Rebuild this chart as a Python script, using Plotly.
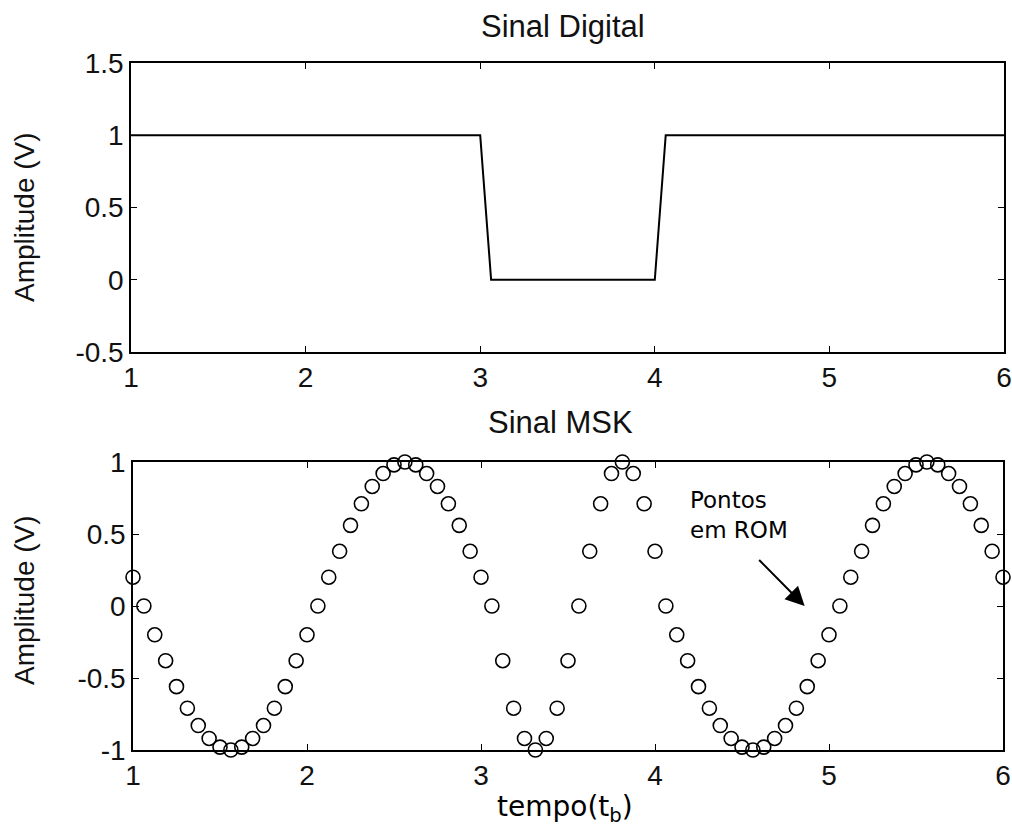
import plotly.graph_objects as go

# ---- data ----
t_dig = [1.0, 3.0, 3.0625, 4.0, 4.0625, 6.0]
v_dig = [1, 1, 0, 0, 1, 1]

t_msk = [
    1.0, 1.0625, 1.125, 1.1875, 1.25, 1.3125, 1.375, 1.4375,
    1.5, 1.5625, 1.625, 1.6875, 1.75, 1.8125, 1.875, 1.9375,
    2.0, 2.0625, 2.125, 2.1875, 2.25, 2.3125, 2.375, 2.4375,
    2.5, 2.5625, 2.625, 2.6875, 2.75, 2.8125, 2.875, 2.9375,
    3.0, 3.0625, 3.125, 3.1875, 3.25, 3.3125, 3.375, 3.4375,
    3.5, 3.5625, 3.625, 3.6875, 3.75, 3.8125, 3.875, 3.9375,
    4.0, 4.0625, 4.125, 4.1875, 4.25, 4.3125, 4.375, 4.4375,
    4.5, 4.5625, 4.625, 4.6875, 4.75, 4.8125, 4.875, 4.9375,
    5.0, 5.0625, 5.125, 5.1875, 5.25, 5.3125, 5.375, 5.4375,
    5.5, 5.5625, 5.625, 5.6875, 5.75, 5.8125, 5.875, 5.9375,
    6.0,
]
v_msk = [
    0.20, 0.00, -0.20, -0.38, -0.56, -0.71, -0.83, -0.92,
    -0.98, -1.00, -0.98, -0.92, -0.83, -0.71, -0.56, -0.38,
    -0.20, 0.00, 0.20, 0.38, 0.56, 0.71, 0.83, 0.92,
    0.98, 1.00, 0.98, 0.92, 0.83, 0.71, 0.56, 0.38,
    0.20, 0.00, -0.38, -0.71, -0.92, -1.00, -0.92, -0.71,
    -0.38, 0.00, 0.38, 0.71, 0.92, 1.00, 0.92, 0.71,
    0.38, 0.00, -0.20, -0.38, -0.56, -0.71, -0.83, -0.92,
    -0.98, -1.00, -0.98, -0.92, -0.83, -0.71, -0.56, -0.38,
    -0.20, 0.00, 0.20, 0.38, 0.56, 0.71, 0.83, 0.92,
    0.98, 1.00, 0.98, 0.92, 0.83, 0.71, 0.56, 0.38,
    0.20,
]

x_ticks = [1, 2, 3, 4, 5, 6]
y_ticks_top = [-0.5, 0, 0.5, 1, 1.5]
y_ticks_bot = [-1, -0.5, 0, 0.5, 1]

W, H = 1012, 827
SANS = "Liberation Sans, Arial, sans-serif"
VERD = "DejaVu Sans, Verdana, sans-serif"

fig = go.Figure()
fig.add_trace(go.Scatter(x=t_dig, y=v_dig, mode="lines",
                         line=dict(color="black", width=2),
                         xaxis="x", yaxis="y", showlegend=False))
fig.add_trace(go.Scatter(x=t_msk, y=v_msk, mode="markers",
                         marker=dict(symbol="circle-open", size=14, color="black",
                                     line=dict(width=1.6, color="black")),
                         cliponaxis=False,
                         xaxis="x2", yaxis="y2", showlegend=False))

def px_x(p):
    return p / W

def px_y(p):
    return 1 - p / H

axis_common = dict(showline=True, linecolor="black", linewidth=1.5, mirror="ticks",
                   ticks="inside", ticklen=6, tickcolor="black", tickwidth=1,
                   showgrid=False, zeroline=False, automargin=False,
                   tickfont=dict(family=SANS, size=28, color="#111"))

fig.update_layout(
    width=W, height=H,
    margin=dict(l=0, r=0, t=0, b=0),
    paper_bgcolor="white", plot_bgcolor="white",
    xaxis=dict(domain=[px_x(131), px_x(1004)], range=[1, 6], tickvals=x_ticks,
               anchor="y", **axis_common),
    yaxis=dict(domain=[px_y(352), px_y(63)], range=[-0.5, 1.5], tickvals=y_ticks_top,
               ticktext=["-0.5", "0", "0.5", "1", "1.5"], anchor="x", **axis_common),
    xaxis2=dict(domain=[px_x(133), px_x(1003)], range=[1, 6], tickvals=x_ticks,
                anchor="y2", **axis_common),
    yaxis2=dict(domain=[px_y(750), px_y(462)], range=[-1, 1], tickvals=y_ticks_bot,
                ticktext=["-1", "-0.5", "0", "0.5", "1"], anchor="x2", **axis_common),
    annotations=[
        dict(text="Sinal Digital", xref="paper", yref="paper", x=px_x(563), y=px_y(26),
             showarrow=False, font=dict(family=SANS, size=31, color="#111"),
             xanchor="center", yanchor="middle"),
        dict(text="Sinal MSK", xref="paper", yref="paper", x=px_x(560), y=px_y(422),
             showarrow=False, font=dict(family=SANS, size=31, color="#111"),
             xanchor="center", yanchor="middle"),
        dict(text="Amplitude (V)", xref="paper", yref="paper", x=px_x(24), y=px_y(217),
             textangle=-90, showarrow=False, font=dict(family=SANS, size=28, color="#111"),
             xanchor="center", yanchor="middle"),
        dict(text="Amplitude (V)", xref="paper", yref="paper", x=px_x(24), y=px_y(600),
             textangle=-90, showarrow=False, font=dict(family=SANS, size=28, color="#111"),
             xanchor="center", yanchor="middle"),
        dict(text="tempo(t<sub>b</sub>)", xref="paper", yref="paper", x=px_x(565), y=px_y(808),
             showarrow=False, font=dict(family=VERD, size=28, color="black"),
             xanchor="center", yanchor="middle"),
        dict(text="Pontos<br>em ROM", xref="x2", yref="y2", x=4.19, y=0.63,
             showarrow=False, align="left", font=dict(family=VERD, size=23, color="black"),
             xanchor="left", yanchor="middle"),
        dict(x=4.86, y=0.0, ax=4.59, ay=0.33, xref="x2", yref="y2", axref="x2", ayref="y2",
             text="", showarrow=True, arrowhead=2, arrowsize=1.9, arrowwidth=2,
             arrowcolor="black"),
    ],
)

fig.write_html("out.html", config={"displayModeBar": False},
               post_script="document.body.style.margin='0px';")
